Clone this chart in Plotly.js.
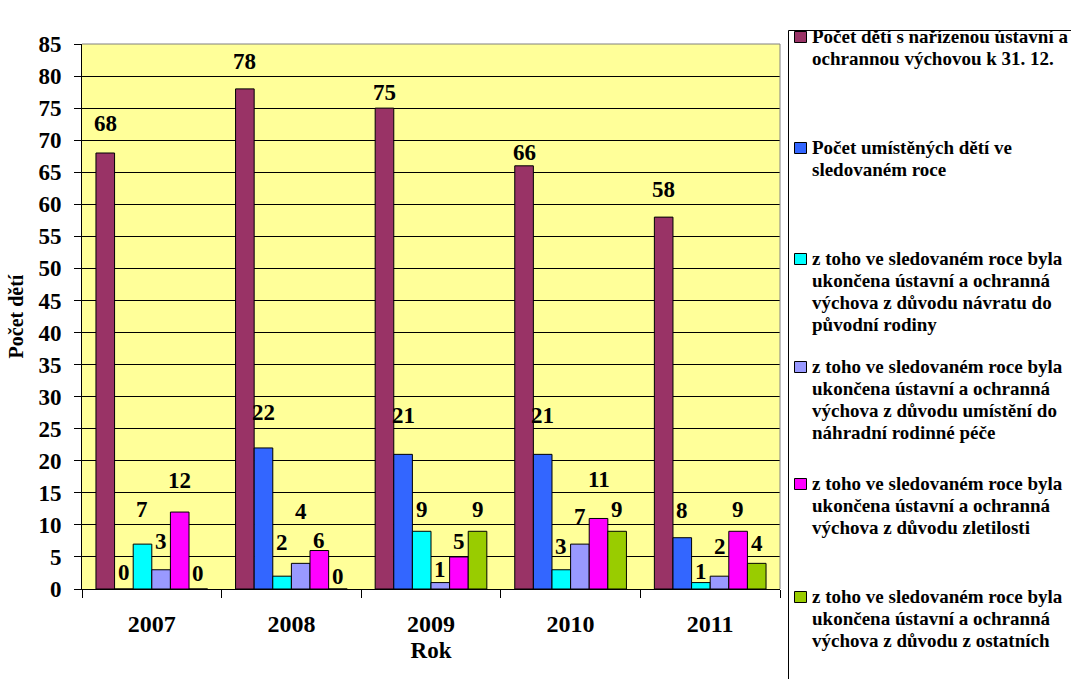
<!DOCTYPE html>
<html>
<head>
<meta charset="utf-8">
<script src="https://cdn.plot.ly/plotly-3.0.1.min.js"></script>
<style>html,body{margin:0;padding:0;background:#fff;}#chart{width:1071px;height:679px;}</style>
</head>
<body>
<div id="chart"></div>
<script>
// ---- data ----
const years = ['2007', '2008', '2009', '2010', '2011'];
const seriesNames = [
  'Počet dětí s nařízenou ústavní a ochrannou výchovou k 31. 12.',
  'Počet umístěných dětí ve sledovaném roce',
  'z toho ve sledovaném roce byla ukončena ústavní a ochranná výchova z důvodu návratu do původní rodiny',
  'z toho ve sledovaném roce byla ukončena ústavní a ochranná výchova z důvodu umístění do náhradní rodinné péče',
  'z toho ve sledovaném roce byla ukončena ústavní a ochranná výchova z důvodu zletilosti',
  'z toho ve sledovaném roce byla ukončena ústavní a ochranná výchova z důvodu z ostatních'
];
const orderedCare = [68, 78, 75, 66, 58];
const placedChildren = [0, 22, 21, 21, 8];
const endedReturnFamily = [7, 2, 9, 3, 1];
const endedFosterCare = [3, 4, 1, 7, 2];
const endedAdulthood = [12, 6, 5, 11, 9];
const endedOther = [0, 0, 9, 9, 4];
const yTicks = [0, 5, 10, 15, 20, 25, 30, 35, 40, 45, 50, 55, 60, 65, 70, 75, 80, 85];

// ---- styling / layout helpers ----
const seriesValues = [orderedCare, placedChildren, endedReturnFamily, endedFosterCare, endedAdulthood, endedOther];
const colors = ['#993366', '#3366FF', '#00FFFF', '#9999FF', '#FF00FF', '#99CC00'];
// legend text with line breaks as in the picture
const legendLines = [
  ['Počet dětí s nařízenou ústavní a', 'ochrannou výchovou k 31. 12.'],
  ['Počet umístěných dětí ve', 'sledovaném roce'],
  ['z toho ve sledovaném roce byla', 'ukončena ústavní a ochranná', 'výchova z důvodu návratu do', 'původní rodiny'],
  ['z toho ve sledovaném roce byla', 'ukončena ústavní a ochranná', 'výchova z důvodu umístění do', 'náhradní rodinné péče'],
  ['z toho ve sledovaném roce byla', 'ukončena ústavní a ochranná', 'výchova z důvodu zletilosti'],
  ['z toho ve sledovaném roce byla', 'ukončena ústavní a ochranná', 'výchova z důvodu z ostatních']
];
// vertical pixel lift of each data label above its bar top (label placement)
const labelLift = [
  [30, 27, 16, 13, 28],
  [17, 35, 39, 39, 27],
  [35, 34, 22, 23, 11],
  [28, 52, 13, 28, 30],
  [32, 10, 15, 39, 22],
  [16, 13, 22, 22, 20]
];
const legendRowCenters = [37, 148, 259, 367, 484, 597];

const FONT = '"Liberation Serif", "Times New Roman", serif';
const W = 1071, H = 679;
const M = {l: 82, r: 291, t: 44, b: 90, pad: 0};
const pw = W - M.l - M.r, ph = H - M.t - M.b;
const px2x = px => (px - M.l) / pw;
const px2y = py => (H - M.b - py) / ph;
const bargap = 0.2;
const barPx = pw / years.length * (1 - bargap) / seriesValues.length;

const traces = seriesValues.map((vals, i) => ({
  type: 'bar',
  name: seriesNames[i],
  x: years,
  y: vals,
  marker: {color: colors[i], line: {color: '#000', width: 1}},
  showlegend: false,
  hoverinfo: 'x+y+name'
}));

const annotations = [];
seriesValues.forEach((vals, i) => {
  vals.forEach((v, j) => {
    annotations.push({
      x: j, y: v, xref: 'x', yref: 'y',   // x = category index of years[j]
      text: String(v), showarrow: false,
      xanchor: 'center', yanchor: 'middle',
      xshift: (i - (seriesValues.length - 1) / 2) * barPx,
      yshift: labelLift[i][j],
      font: {family: FONT, size: 23, color: '#000', weight: 'bold'}
    });
  });
});

const shapes = [
  // plot area gray border (top & right)
  {type: 'line', xref: 'paper', yref: 'paper', x0: 0, x1: 1, y0: 1, y1: 1, line: {color: '#808080', width: 1}},
  {type: 'line', xref: 'paper', yref: 'paper', x0: 1, x1: 1, y0: 0, y1: 1, line: {color: '#808080', width: 1}},
  // legend box
  {type: 'rect', xref: 'paper', yref: 'paper', x0: px2x(788.5), x1: px2x(1080), y0: px2y(30.5), y1: px2y(690),
   line: {color: '#000', width: 1}, fillcolor: 'rgba(0,0,0,0)'}
];

legendLines.forEach((lines, i) => {
  const c = legendRowCenters[i];
  shapes.push({type: 'rect', xref: 'paper', yref: 'paper',
    x0: px2x(794.5), x1: px2x(806.5), y0: px2y(c - 5.5), y1: px2y(c + 5.5),
    fillcolor: colors[i], line: {color: '#000', width: 1}});
  annotations.push({
    xref: 'paper', yref: 'paper', x: px2x(811), y: px2y(c - 12),
    xanchor: 'left', yanchor: 'top', align: 'left', showarrow: false, borderpad: 0,
    text: lines.map(l => '<span style="font-size:19px">' + l + '</span>').join('<br>'),
    font: {family: FONT, size: 17, color: '#000', weight: 'bold'}
  });
});

const layout = {
  width: W, height: H,
  margin: M,
  paper_bgcolor: '#FFFFFF',
  plot_bgcolor: '#FFFF99',
  barmode: 'group',
  bargap: bargap,
  bargroupgap: 0,
  showlegend: false,
  font: {family: FONT, color: '#000'},
  xaxis: {
    type: 'category',
    range: [-0.5, years.length - 0.5],
    showline: true, linecolor: '#000', linewidth: 1,
    ticks: 'outside', tickson: 'boundaries', ticklen: 8, tickcolor: '#000', tickwidth: 1,
    ticklabelstandoff: 13,
    tickangle: 0,
    tickfont: {family: FONT, size: 24, color: '#000', weight: 'bold'},
    showgrid: false, zeroline: false,
    title: {text: 'Rok', font: {family: FONT, size: 23, color: '#000', weight: 'bold'}, standoff: 6}
  },
  yaxis: {
    range: [0, 85],
    tickmode: 'array', tickvals: yTicks, ticktext: yTicks.map(String),
    showgrid: true, gridcolor: '#000', gridwidth: 1,
    showline: true, linecolor: '#000', linewidth: 1,
    ticks: 'outside', ticklen: 7, tickcolor: '#000', tickwidth: 1,
    ticklabelstandoff: 8,
    tickfont: {family: FONT, size: 23, color: '#000', weight: 'bold'},
    zeroline: false,
    title: {text: 'Počet dětí', font: {family: FONT, size: 20, color: '#000', weight: 'bold'}, standoff: 9}
  },
  annotations: annotations,
  shapes: shapes
};

Plotly.newPlot('chart', traces, layout, {displayModeBar: false, staticPlot: true});
</script>
</body>
</html>
